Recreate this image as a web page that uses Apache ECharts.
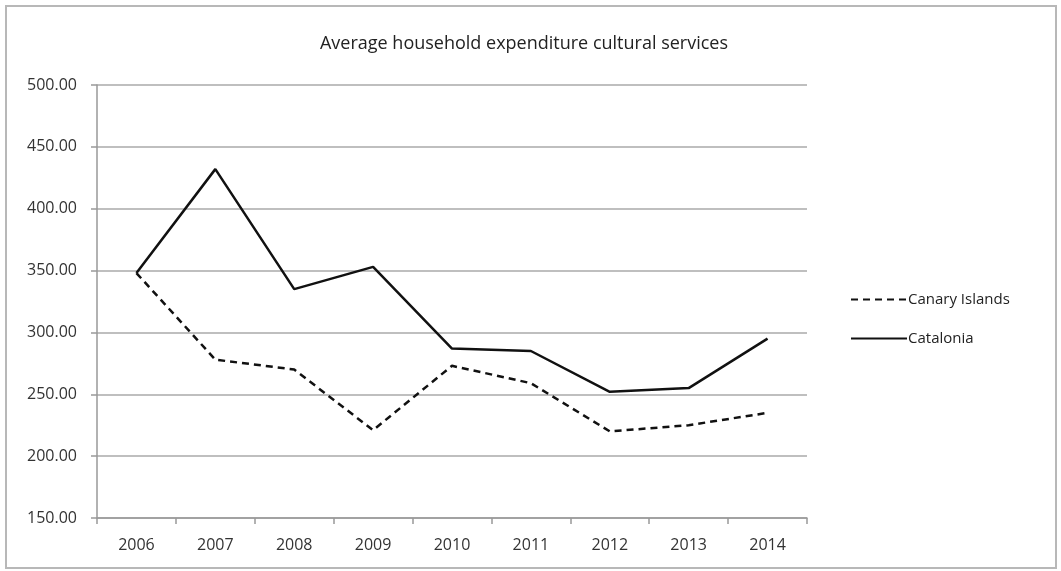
<!DOCTYPE html>
<html lang="en">
<head>
  <meta charset="UTF-8">
  <title>Average household expenditure cultural services</title>
  <script src="https://cdn.jsdelivr.net/npm/echarts@6/dist/echarts.min.js"></script>
  <style>
    html, body { margin: 0; padding: 0; background: #fff; }
  </style>
</head>
<body>
  <div id="main" style="width: 1061px;height:571px;"></div>
  <script>
    // data
    var years = ['2006', '2007', '2008', '2009', '2010', '2011', '2012', '2013', '2014'];
    var canaryIslands = [348, 278, 270, 221, 273, 259, 220, 225, 235];
    var catalonia = [348, 432, 335, 353, 287, 285, 252, 255, 295];

    var myChart = echarts.init(document.getElementById('main'));
    var font = 'Open Sans';

    var option = {
      backgroundColor: '#fff',
      animation: false,
      // outer chart frame
      graphic: [{
        type: 'rect',
        shape: { x: 6, y: 6, width: 1050, height: 562 },
        style: { fill: 'none', stroke: '#b8b8b8', lineWidth: 2 },
        silent: true
      }],
      title: {
        text: 'Average household expenditure cultural services',
        left: 519,
        textAlign: 'center',
        top: 30,
        textStyle: { fontFamily: font, fontSize: 18, fontWeight: 'normal', color: '#222' }
      },
      legend: {
        orient: 'vertical',
        left: 845,
        top: 287,
        itemWidth: 56,
        itemHeight: 12,
        itemGap: 24,
        itemStyle: { color: 'transparent', borderWidth: 0 },
        textStyle: { fontFamily: font, fontSize: 15, color: '#222', padding: [0, 0, 0, -4] },
        data: ['Canary Islands', 'Catalonia']
      },
      grid: { left: 97, right: 254, top: 85, bottom: 53 },
      xAxis: {
        type: 'category',
        data: years,
        boundaryGap: true,
        axisLine: { lineStyle: { color: '#999', width: 1.5 } },
        axisTick: { show: true, length: 6, lineStyle: { color: '#999', width: 1.5 } },
        axisLabel: { margin: 19, fontFamily: font, fontSize: 16, color: '#333' }
      },
      yAxis: {
        type: 'value',
        min: 150,
        max: 500,
        interval: 50,
        axisLine: { show: true, lineStyle: { color: '#999', width: 1.5 } },
        axisTick: { show: true, length: 6, lineStyle: { color: '#999', width: 1.5 } },
        splitLine: { lineStyle: { color: '#aaa', width: 1.5 } },
        axisLabel: {
          margin: 20,
          fontFamily: font,
          fontSize: 16,
          color: '#333',
          formatter: function (v) { return v.toFixed(2); }
        }
      },
      series: [
        {
          name: 'Canary Islands',
          type: 'line',
          data: canaryIslands,
          symbol: 'none',
          lineStyle: { color: '#111', width: 2.5, type: [7, 5] },
          itemStyle: { color: '#111' }
        },
        {
          name: 'Catalonia',
          type: 'line',
          data: catalonia,
          symbol: 'none',
          lineStyle: { color: '#111', width: 2.5 },
          itemStyle: { color: '#111' }
        }
      ]
    };

    myChart.setOption(option);
  </script>
</body>
</html>
